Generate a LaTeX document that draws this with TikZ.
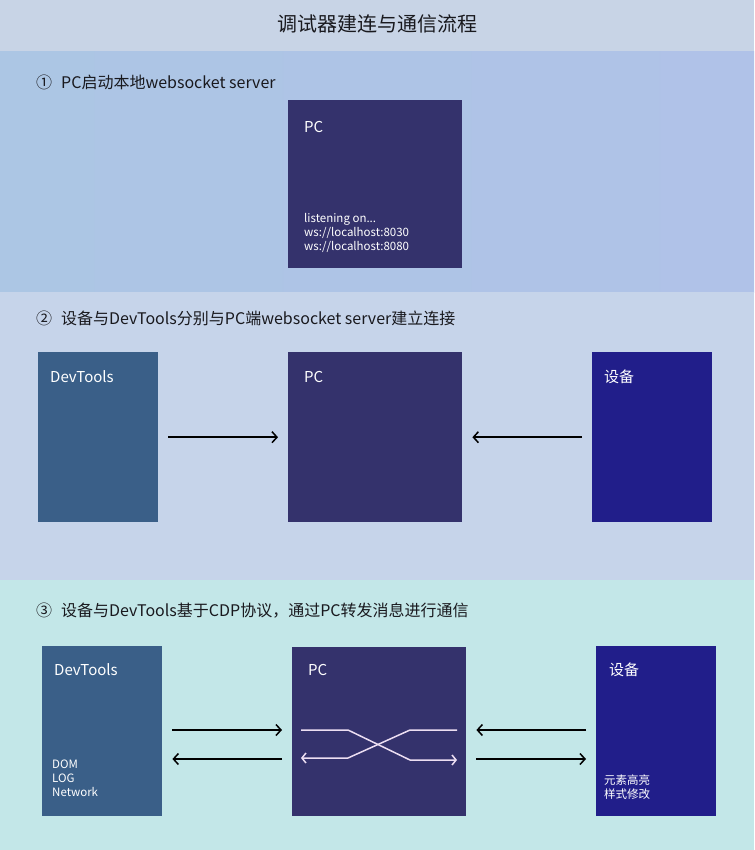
\documentclass[tikz,border=0pt]{standalone}
\usepackage{fontspec}
\setmainfont{Noto Sans CJK SC}
\usepackage{tikz}
\usetikzlibrary{positioning, arrows.meta, calc}
\definecolor{DTTitle}{RGB}{200,212,230}
\definecolor{DTSecAL}{RGB}{172,198,228}
\definecolor{DTSecAR}{RGB}{176,194,232}
\definecolor{DTSecB}{RGB}{198,212,234}
\definecolor{DTSecC}{RGB}{195,231,232}
\definecolor{DTPC}{RGB}{52,50,108}
\definecolor{DTTools}{RGB}{58,95,136}
\definecolor{DTDevice}{RGB}{33,30,138}
\definecolor{DTWire}{RGB}{236,222,242}
\definecolor{DTInk}{RGB}{25,25,30}

\begin{document}
\begin{tikzpicture}[x=1pt, y=-1pt,
    box/.style={rectangle, anchor=north west, inner sep=0pt,
                minimum width=120pt, minimum height=170pt},
    tag/.style={anchor=west, inner sep=0pt, text=white,
                font=\fontsize{15}{18}\selectfont},
    note/.style={anchor=north west, inner sep=0pt, text=white, align=left,
                 font=\fontsize{11.5}{14}\selectfont},
    sechead/.style={anchor=west, inner sep=0pt, text=DTInk,
                    font=\fontsize{16}{20}\selectfont},
    arr/.style={-{Straight Barb[length=5pt, width=11pt]}, line width=1.5pt,
                shorten <=10pt, shorten >=10pt},
    wire/.style={DTWire, line width=1.5pt},
    wtip/.style={-{Straight Barb[length=4pt, width=10pt]}}
  ]
  \useasboundingbox (0,0) rectangle (754,850);
  % bands
  \fill[DTTitle] (0,0) rectangle (754,52);
  \shade[left color=DTSecAL, right color=DTSecAR] (0,52) rectangle (754,292);
  \fill[DTSecB] (0,292) rectangle (754,580);
  \fill[DTSecC] (0,580) rectangle (754,850);

  \node[font=\fontsize{20}{24}\selectfont, text=DTInk] (title)
        at (377,24) {调试器建连与通信流程};

  % step 1
  \node[sechead] (s1) at (36,82) {①\hspace{9pt}PC启动本地websocket server};
  \node[box, fill=DTPC, minimum width=174pt, minimum height=168pt] (pc1) at (288,100) {};
  \node[tag] (pc1t) at ($(pc1.north west)+(16,27)$) {PC};
  \node[note] (pc1n) at ($(pc1.north west)+(16,113)$)
        {listening on...\\ws://localhost:8030\\ws://localhost:8080};

  % step 2
  \node[sechead] (s2) at (36,318) {②\hspace{9pt}设备与DevTools分别与PC端websocket server建立连接};
  \node[box, fill=DTTools] (dt2) at (38,352) {};
  \node[box, fill=DTPC, minimum width=174pt] (pc2) at (288,352) {};
  \node[box, fill=DTDevice] (dev2) at (592,352) {};
  \node[tag] (dt2t) at ($(dt2.north west)+(12,25)$) {DevTools};
  \node[tag] (pc2t) at ($(pc2.north west)+(16,25)$) {PC};
  \node[tag] (dev2t) at ($(dev2.north west)+(12,25)$) {设备};
  \draw[arr] (dt2) -- (pc2);
  \draw[arr] (dev2) -- (pc2);

  % step 3
  \node[sechead] (s3) at (36,611) {③\hspace{9pt}设备与DevTools基于CDP协议，通过PC转发消息进行通信};
  \node[box, fill=DTTools] (dt3) at (42,646) {};
  \node[box, fill=DTPC, minimum width=174pt, minimum height=169pt] (pc3) at (292,647) {};
  \node[box, fill=DTDevice] (dev3) at (596,646) {};
  \node[tag] (dt3t) at ($(dt3.north west)+(12,24)$) {DevTools};
  \node[tag] (pc3t) at ($(pc3.north west)+(16,23)$) {PC};
  \node[tag] (dev3t) at ($(dev3.north west)+(13,24)$) {设备};
  \node[note] (dt3n) at ($(dt3.north west)+(10,114)$) {DOM\\LOG\\Network};
  \node[note] (dev3n) at ($(dev3.north west)+(8,129)$) {元素高亮\\样式修改};

  \coordinate (pcA) at ($(pc3.north west)+(0,83)$);
  \coordinate (pcB) at ($(pc3.north west)+(0,112)$);
  \draw[arr] (dt3.east |- pcA) -- (pcA);
  \draw[arr] (pcB) -- (dt3.east |- pcB);
  \draw[arr] (dev3.west |- pcA) -- (pc3.east |- pcA);
  \draw[arr] (pc3.east |- pcB) -- (dev3.west |- pcB);

  % crossing inside PC
  \draw[wire, wtip] ($(pcA)+(9,0)$) -- ($(pcA)+(56,0)$)
        -- ($(pcB)+(118,1)$) -- ($(pcB)+(165,1)$);
  \draw[wire, wtip] ($(pcA)+(165,0)$) -- ($(pcA)+(118,0)$)
        -- ($(pcB)+(56,-1)$) -- ($(pcB)+(9,-1)$);
\end{tikzpicture}
\end{document}
